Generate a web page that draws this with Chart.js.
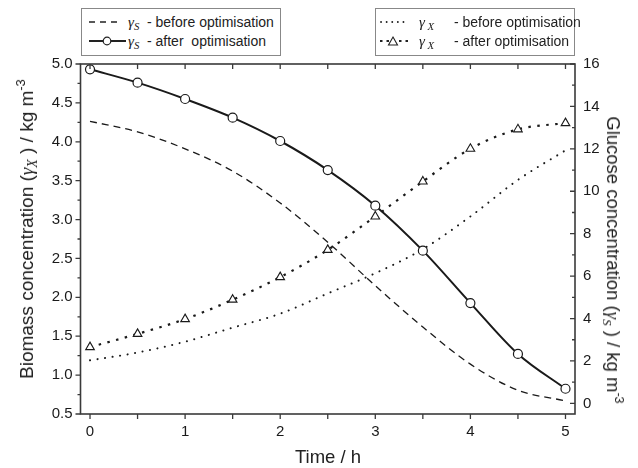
<!DOCTYPE html>
<html>
<head>
<meta charset="utf-8">
<script src="https://cdn.jsdelivr.net/npm/chart.js@4/dist/chart.umd.min.js"></script>
<style>
  body { margin: 0; background: #fff; }
  #wrap { position: relative; width: 638px; height: 468px; font-family: "Liberation Sans", Arial, sans-serif; color: #222; }
  canvas { position: absolute; left: 0; top: 0; }
  .legend { position: absolute; top: 8px; width: 198px; height: 46px; border: 1px solid #888; background: #fff; }
  .row { position: absolute; font-size: 14px; line-height: 16px; white-space: nowrap; }
  .row svg { position: absolute; top: 3px; }
  .gam { position: absolute; top: 0; font-family: "Liberation Serif", serif; font-style: italic; font-size: 15px; }
  .gam sub, .title sub { font-size: 72%; vertical-align: -0.3em; line-height: 0; }
  .title sup { font-size: 68%; vertical-align: 0.6em; line-height: 0; }
  .title { position: absolute; font-size: 19px; white-space: nowrap; transform-origin: center center; }
  .title i { font-family: "Liberation Serif", serif; }
</style>
</head>
<body>
<div id="wrap">
  <canvas id="chart" width="638" height="468"></canvas>

  <div class="legend" style="left:81px;">
    <div class="row" style="left:0; top:5px; width:198px; height:16px;">
      <svg width="32" height="10" style="left:7px;"><line x1="0" y1="5" x2="31" y2="5" stroke="#222" stroke-width="1.3" stroke-dasharray="6 5"/></svg>
      <span class="gam" style="left:46px;">γ<sub>S</sub></span>
      <span style="position:absolute; left:65px;">- before optimisation</span>
    </div>
    <div class="row" style="left:0; top:24px; width:198px; height:16px;">
      <svg width="38" height="10" style="left:7px;"><line x1="0" y1="5" x2="37" y2="5" stroke="#222" stroke-width="2"/><circle cx="18" cy="5" r="3.8" fill="#fff" stroke="#222" stroke-width="1.2"/></svg>
      <span class="gam" style="left:46px;">γ<sub>S</sub></span>
      <span style="position:absolute; left:65px;">- after&nbsp; optimisation</span>
    </div>
  </div>

  <div class="legend" style="left:375px;">
    <div class="row" style="left:0; top:5px; width:198px; height:16px;">
      <svg width="30" height="10" style="left:4px;"><line x1="1" y1="5" x2="29" y2="5" stroke="#222" stroke-width="1.8" stroke-linecap="round" stroke-dasharray="0.1 5.5"/></svg>
      <span class="gam" style="left:43px;">γ<sub>&nbsp;X</sub></span>
      <span style="position:absolute; left:78px;">- before optimisation</span>
    </div>
    <div class="row" style="left:0; top:24px; width:198px; height:16px;">
      <svg width="30" height="12" style="left:4px; top:2px;"><line x1="0" y1="6" x2="11" y2="6" stroke="#222" stroke-width="1.8" stroke-dasharray="2.5 4"/><line x1="19" y1="6" x2="30" y2="6" stroke="#222" stroke-width="1.8" stroke-dasharray="2.5 4"/><polygon points="13,2 17.5,10 8.5,10" fill="#fff" stroke="#222" stroke-width="1.1"/></svg>
      <span class="gam" style="left:43px;">γ<sub>&nbsp;X</sub></span>
      <span style="position:absolute; left:78px;">- after optimisation</span>
    </div>
  </div>

  <div class="title" id="titleLeft" style="left:27px; top:229px; transform: translate(-50%, -50%) rotate(-90deg);">Biomass concentration (<i>γ</i><sub><i>X</i></sub> ) / kg m<sup>-3</sup></div>
  <div class="title" id="titleRight" style="left:613px; top:260px; font-size:18.5px; transform: translate(-50%, -50%) rotate(90deg);">Glucose concentration (<i>γ</i><sub><i>S</i></sub> ) / kg m<sup>-3</sup></div>
  <div class="title" id="titleBottom" style="left:328px; top:457px; font-size:18.5px; transform: translate(-50%, -50%);">Time / h</div>
</div>

<script>
// ===== DATA =====
const timeH = [0, 0.5, 1, 1.5, 2, 2.5, 3, 3.5, 4, 4.5, 5];
const glucoseBefore = [13.3, 12.8, 12.0, 10.95, 9.45, 7.6, 5.55, 3.6, 1.85, 0.62, 0.12];
const glucoseAfter = [15.75, 15.12, 14.35, 13.47, 12.37, 11.0, 9.32, 7.2, 4.73, 2.33, 0.69];
const biomassBefore = [1.19, 1.29, 1.43, 1.61, 1.79, 2.05, 2.31, 2.62, 3.04, 3.51, 3.89];
const biomassAfter = [1.36, 1.53, 1.72, 1.97, 2.26, 2.61, 3.04, 3.49, 3.91, 4.16, 4.24];

const xTicks = [0, 1, 2, 3, 4, 5];
const leftTicks = [0.5, 1.0, 1.5, 2.0, 2.5, 3.0, 3.5, 4.0, 4.5, 5.0];
const rightTicks = [0, 2, 4, 6, 8, 10, 12, 14, 16];

const INK = '#1a1a1a';
const FRAME = '#3a3a3a';

function pairs(ys) {
    return timeH.map((t, i) => ({ x: t, y: ys[i] }));
}

// ===== FRAME + TICK MARKS =====
const framePlugin = {
    id: 'frame',
    afterDatasetsDraw(chart) {
        const { ctx, chartArea: a, scales } = chart;
        const x = scales.x, yl = scales.y, yr = scales.y1;
        ctx.save();
        ctx.strokeStyle = FRAME;
        ctx.lineWidth = 1.6;
        ctx.strokeRect(a.left, a.top, a.right - a.left, a.bottom - a.top);
        ctx.lineWidth = 1.3;
        ctx.beginPath();
        // bottom (outward) and top (inward), every 0.5 h
        for (let v = 0; v <= 5.001; v += 0.5) {
            const px = x.getPixelForValue(v);
            ctx.moveTo(px, a.bottom); ctx.lineTo(px, a.bottom + 5);
            ctx.moveTo(px, a.top); ctx.lineTo(px, a.top + 5);
        }
        // left (outward): major 0.5, minor 0.25
        for (let v = 0.5; v <= 5.001; v += 0.25) {
            const py = yl.getPixelForValue(v);
            const major = Math.abs(v * 2 - Math.round(v * 2)) < 1e-6;
            ctx.moveTo(a.left, py); ctx.lineTo(a.left - (major ? 5 : 3), py);
        }
        // right (inward): major 2, minor 1
        for (let v = 0; v <= 16; v += 1) {
            const py = yr.getPixelForValue(v);
            ctx.moveTo(a.right, py); ctx.lineTo(a.right - (v % 2 === 0 ? 5 : 3), py);
        }
        ctx.stroke();
        ctx.restore();
    }
};

const tickFont = { family: '"Liberation Sans", Arial, sans-serif', size: 15 };
const noGrid = { display: false, drawTicks: false };

new Chart(document.getElementById('chart'), {
    type: 'line',
    data: {
        datasets: [
            {
                label: 'γS - before optimisation',
                data: pairs(glucoseBefore),
                yAxisID: 'y1',
                borderColor: INK,
                borderWidth: 1.3,
                borderDash: [7, 5],
                pointRadius: 0,
                cubicInterpolationMode: 'monotone'
            },
            {
                label: 'γS - after optimisation',
                data: pairs(glucoseAfter),
                yAxisID: 'y1',
                borderColor: INK,
                borderWidth: 2,
                pointStyle: 'circle',
                pointRadius: 4.5,
                pointBorderWidth: 1.2,
                pointBorderColor: INK,
                pointBackgroundColor: '#fff',
                cubicInterpolationMode: 'monotone'
            },
            {
                label: 'γX - before optimisation',
                data: pairs(biomassBefore),
                yAxisID: 'y',
                borderColor: INK,
                borderWidth: 2,
                borderDash: [0.1, 7.5],
                borderCapStyle: 'round',
                pointRadius: 0,
                cubicInterpolationMode: 'monotone'
            },
            {
                label: 'γX - after optimisation',
                data: pairs(biomassAfter),
                yAxisID: 'y',
                borderColor: INK,
                borderWidth: 2.2,
                borderDash: [2.5, 6.5],
                pointStyle: 'triangle',
                pointRadius: 5,
                pointBorderWidth: 1.1,
                pointBorderColor: INK,
                pointBackgroundColor: '#fff',
                cubicInterpolationMode: 'monotone'
            }
        ]
    },
    options: {
        responsive: false,
        animation: false,
        layout: { padding: { top: 64, left: 0, right: 0, bottom: 0 } },
        plugins: {
            legend: { display: false },
            tooltip: { enabled: false }
        },
        scales: {
            x: {
                type: 'linear',
                min: -0.1,
                max: 5.1,
                grid: noGrid,
                border: { display: false },
                afterBuildTicks: s => { s.ticks = xTicks.map(v => ({ value: v })); },
                afterFit: s => { s.height = 54; },
                ticks: { color: INK, font: tickFont, padding: 9, maxRotation: 0 }
            },
            y: {
                position: 'left',
                min: 0.5,
                max: 5.0,
                grid: noGrid,
                border: { display: false },
                afterBuildTicks: s => { s.ticks = leftTicks.map(v => ({ value: v })); },
                afterFit: s => { s.width = 80.5; },
                ticks: { color: INK, font: tickFont, padding: 8, callback: v => v.toFixed(1) }
            },
            y1: {
                position: 'right',
                min: -0.5,
                max: 16,
                grid: noGrid,
                border: { display: false },
                afterBuildTicks: s => { s.ticks = rightTicks.map(v => ({ value: v })); },
                afterFit: s => { s.width = 63; },
                ticks: { color: INK, font: tickFont, padding: 8 }
            }
        }
    },
    plugins: [framePlugin]
});
</script>
</body>
</html>
